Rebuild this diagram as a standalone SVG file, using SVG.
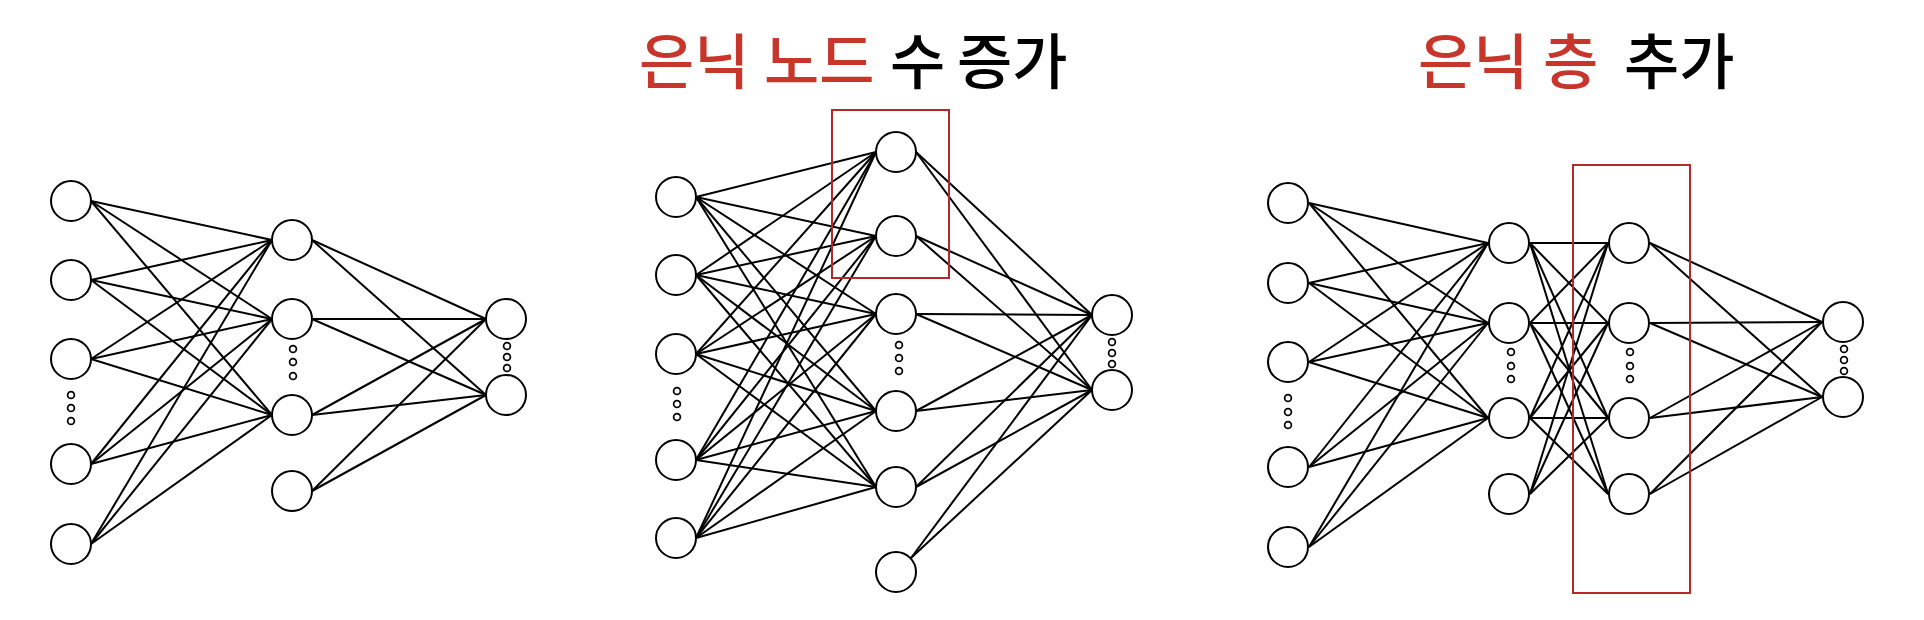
<svg xmlns="http://www.w3.org/2000/svg" width="1924" height="620" viewBox="0 0 1924 620">
<style>
.bg{fill:#ffffff}
.edge{stroke:#000;stroke-width:2;fill:none}
.node{fill:#fff;stroke:#000;stroke-width:2}
.dot{fill:#fff;stroke:#000;stroke-width:1.7}
.hl{fill:none;stroke:#b3282a;stroke-width:2}
.title{font-family:"Noto Sans CJK KR","Noto Sans CJK SC",sans-serif;font-size:60px;font-weight:500}
.red{fill:#c8352b}
.blk{fill:#000}
</style>
<rect class="bg" x="0" y="0" width="1924" height="620"/>

<text class="title" y="84"><tspan class="red" x="639">은닉</tspan><tspan class="red" x="764">노드</tspan><tspan class="blk" x="890">수</tspan><tspan class="blk" x="957">증가</tspan></text>
<text class="title" y="84"><tspan class="red" x="1418">은닉</tspan><tspan class="red" x="1543">층</tspan><tspan class="blk" x="1624">추가</tspan></text>

<g id="connectors">
<!-- Network 1: input -> hidden -->
<line class="edge" x1="91" y1="201" x2="272" y2="240"/>
<line class="edge" x1="91" y1="201" x2="272" y2="319"/>
<line class="edge" x1="91" y1="201" x2="272" y2="415"/>
<line class="edge" x1="91" y1="280" x2="272" y2="240"/>
<line class="edge" x1="91" y1="280" x2="272" y2="319"/>
<line class="edge" x1="91" y1="280" x2="272" y2="415"/>
<line class="edge" x1="91" y1="359" x2="272" y2="240"/>
<line class="edge" x1="91" y1="359" x2="272" y2="319"/>
<line class="edge" x1="91" y1="359" x2="272" y2="415"/>
<line class="edge" x1="91" y1="464" x2="272" y2="240"/>
<line class="edge" x1="91" y1="464" x2="272" y2="319"/>
<line class="edge" x1="91" y1="464" x2="272" y2="415"/>
<line class="edge" x1="91" y1="544" x2="272" y2="240"/>
<line class="edge" x1="91" y1="544" x2="272" y2="319"/>
<line class="edge" x1="91" y1="544" x2="272" y2="415"/>
<!-- Network 1: hidden -> output -->
<line class="edge" x1="312" y1="240" x2="486" y2="319"/>
<line class="edge" x1="312" y1="240" x2="486" y2="395"/>
<line class="edge" x1="312" y1="319" x2="486" y2="319"/>
<line class="edge" x1="312" y1="319" x2="486" y2="395"/>
<line class="edge" x1="312" y1="415" x2="486" y2="319"/>
<line class="edge" x1="312" y1="415" x2="486" y2="395"/>
<line class="edge" x1="312" y1="491" x2="486" y2="319"/>
<line class="edge" x1="312" y1="491" x2="486" y2="395"/>

<!-- Network 2: input -> hidden -->
<line class="edge" x1="696" y1="197" x2="876" y2="152"/>
<line class="edge" x1="696" y1="197" x2="876" y2="236"/>
<line class="edge" x1="696" y1="197" x2="876" y2="314"/>
<line class="edge" x1="696" y1="197" x2="876" y2="411"/>
<line class="edge" x1="696" y1="197" x2="876" y2="487"/>
<line class="edge" x1="696" y1="275" x2="876" y2="152"/>
<line class="edge" x1="696" y1="275" x2="876" y2="236"/>
<line class="edge" x1="696" y1="275" x2="876" y2="314"/>
<line class="edge" x1="696" y1="275" x2="876" y2="411"/>
<line class="edge" x1="696" y1="275" x2="876" y2="487"/>
<line class="edge" x1="696" y1="354" x2="876" y2="152"/>
<line class="edge" x1="696" y1="354" x2="876" y2="236"/>
<line class="edge" x1="696" y1="354" x2="876" y2="314"/>
<line class="edge" x1="696" y1="354" x2="876" y2="411"/>
<line class="edge" x1="696" y1="354" x2="876" y2="487"/>
<line class="edge" x1="696" y1="460" x2="876" y2="152"/>
<line class="edge" x1="696" y1="460" x2="876" y2="236"/>
<line class="edge" x1="696" y1="460" x2="876" y2="314"/>
<line class="edge" x1="696" y1="460" x2="876" y2="411"/>
<line class="edge" x1="696" y1="460" x2="876" y2="487"/>
<line class="edge" x1="696" y1="538" x2="876" y2="152"/>
<line class="edge" x1="696" y1="538" x2="876" y2="236"/>
<line class="edge" x1="696" y1="538" x2="876" y2="314"/>
<line class="edge" x1="696" y1="538" x2="876" y2="411"/>
<line class="edge" x1="696" y1="538" x2="876" y2="487"/>
<!-- Network 2: hidden -> output -->
<line class="edge" x1="916" y1="152" x2="1092" y2="315"/>
<line class="edge" x1="916" y1="152" x2="1092" y2="390"/>
<line class="edge" x1="916" y1="236" x2="1092" y2="315"/>
<line class="edge" x1="916" y1="236" x2="1092" y2="390"/>
<line class="edge" x1="916" y1="314" x2="1092" y2="315"/>
<line class="edge" x1="916" y1="314" x2="1092" y2="390"/>
<line class="edge" x1="916" y1="411" x2="1092" y2="315"/>
<line class="edge" x1="916" y1="411" x2="1092" y2="390"/>
<line class="edge" x1="916" y1="487" x2="1092" y2="315"/>
<line class="edge" x1="916" y1="487" x2="1092" y2="390"/>
<line class="edge" x1="911" y1="558" x2="1092" y2="315"/>
<line class="edge" x1="911" y1="558" x2="1092" y2="390"/>

<!-- Network 3: input -> hidden 1 -->
<line class="edge" x1="1309" y1="203" x2="1488" y2="243"/>
<line class="edge" x1="1309" y1="203" x2="1488" y2="323"/>
<line class="edge" x1="1309" y1="203" x2="1488" y2="418"/>
<line class="edge" x1="1309" y1="283" x2="1488" y2="243"/>
<line class="edge" x1="1309" y1="283" x2="1488" y2="323"/>
<line class="edge" x1="1309" y1="283" x2="1488" y2="418"/>
<line class="edge" x1="1309" y1="362" x2="1488" y2="243"/>
<line class="edge" x1="1309" y1="362" x2="1488" y2="323"/>
<line class="edge" x1="1309" y1="362" x2="1488" y2="418"/>
<line class="edge" x1="1309" y1="467" x2="1488" y2="243"/>
<line class="edge" x1="1309" y1="467" x2="1488" y2="323"/>
<line class="edge" x1="1309" y1="467" x2="1488" y2="418"/>
<line class="edge" x1="1309" y1="547" x2="1488" y2="243"/>
<line class="edge" x1="1309" y1="547" x2="1488" y2="323"/>
<line class="edge" x1="1309" y1="547" x2="1488" y2="418"/>
<!-- Network 3: hidden 1 -> hidden 2 -->
<line class="edge" x1="1530" y1="243" x2="1608" y2="243"/>
<line class="edge" x1="1530" y1="243" x2="1608" y2="323"/>
<line class="edge" x1="1530" y1="243" x2="1608" y2="418"/>
<line class="edge" x1="1530" y1="243" x2="1608" y2="494"/>
<line class="edge" x1="1530" y1="323" x2="1608" y2="243"/>
<line class="edge" x1="1530" y1="323" x2="1608" y2="323"/>
<line class="edge" x1="1530" y1="323" x2="1608" y2="418"/>
<line class="edge" x1="1530" y1="323" x2="1608" y2="494"/>
<line class="edge" x1="1530" y1="418" x2="1608" y2="243"/>
<line class="edge" x1="1530" y1="418" x2="1608" y2="323"/>
<line class="edge" x1="1530" y1="418" x2="1608" y2="418"/>
<line class="edge" x1="1530" y1="418" x2="1608" y2="494"/>
<line class="edge" x1="1530" y1="494" x2="1608" y2="243"/>
<line class="edge" x1="1530" y1="494" x2="1608" y2="323"/>
<line class="edge" x1="1530" y1="494" x2="1608" y2="418"/>
<!-- Network 3: hidden 2 -> output -->
<line class="edge" x1="1650" y1="243" x2="1822" y2="322"/>
<line class="edge" x1="1650" y1="243" x2="1822" y2="397"/>
<line class="edge" x1="1650" y1="323" x2="1822" y2="322"/>
<line class="edge" x1="1650" y1="323" x2="1822" y2="397"/>
<line class="edge" x1="1650" y1="418" x2="1822" y2="322"/>
<line class="edge" x1="1650" y1="418" x2="1822" y2="397"/>
<line class="edge" x1="1650" y1="494" x2="1822" y2="322"/>
<line class="edge" x1="1650" y1="494" x2="1822" y2="397"/>
</g>

<!-- Network 1 nodes -->
<g id="n1-in1"><circle class="node" cx="71" cy="201" r="20"/></g>
<g id="n1-in2"><circle class="node" cx="71" cy="280" r="20"/></g>
<g id="n1-in3"><circle class="node" cx="71" cy="359" r="20"/></g>
<g id="n1-in4"><circle class="node" cx="71" cy="464" r="20"/></g>
<g id="n1-in5"><circle class="node" cx="71" cy="544" r="20"/></g>
<g id="n1-in-dots"><circle class="dot" cx="71" cy="395" r="3.4"/><circle class="dot" cx="71" cy="408" r="3.4"/><circle class="dot" cx="71" cy="421" r="3.4"/></g>
<g id="n1-h1"><circle class="node" cx="292" cy="240" r="20"/></g>
<g id="n1-h2"><circle class="node" cx="292" cy="319" r="20"/></g>
<g id="n1-h3"><circle class="node" cx="292" cy="415" r="20"/></g>
<g id="n1-h4"><circle class="node" cx="292" cy="491" r="20"/></g>
<g id="n1-h-dots"><circle class="dot" cx="293" cy="349" r="3.4"/><circle class="dot" cx="293" cy="362" r="3.4"/><circle class="dot" cx="293" cy="376" r="3.4"/></g>
<g id="n1-out1"><circle class="node" cx="506" cy="319" r="20"/></g>
<g id="n1-out2"><circle class="node" cx="506" cy="395" r="20"/></g>
<g id="n1-out-dots"><circle class="dot" cx="507" cy="346" r="3.4"/><circle class="dot" cx="507" cy="357" r="3.4"/><circle class="dot" cx="507" cy="368" r="3.4"/></g>

<!-- Network 2 nodes -->
<g id="n2-highlight"><rect class="hl" x="832" y="110" width="117" height="168"/></g>
<g id="n2-in1"><circle class="node" cx="676" cy="197" r="20"/></g>
<g id="n2-in2"><circle class="node" cx="676" cy="275" r="20"/></g>
<g id="n2-in3"><circle class="node" cx="676" cy="354" r="20"/></g>
<g id="n2-in4"><circle class="node" cx="676" cy="460" r="20"/></g>
<g id="n2-in5"><circle class="node" cx="676" cy="538" r="20"/></g>
<g id="n2-in-dots"><circle class="dot" cx="677" cy="391" r="3.4"/><circle class="dot" cx="677" cy="404" r="3.4"/><circle class="dot" cx="677" cy="417" r="3.4"/></g>
<g id="n2-h1"><circle class="node" cx="896" cy="152" r="20"/></g>
<g id="n2-h2"><circle class="node" cx="896" cy="236" r="20"/></g>
<g id="n2-h3"><circle class="node" cx="896" cy="314" r="20"/></g>
<g id="n2-h4"><circle class="node" cx="896" cy="411" r="20"/></g>
<g id="n2-h5"><circle class="node" cx="896" cy="487" r="20"/></g>
<g id="n2-h6"><circle class="node" cx="896" cy="572" r="20"/></g>
<g id="n2-h-dots"><circle class="dot" cx="899" cy="345" r="3.4"/><circle class="dot" cx="899" cy="358" r="3.4"/><circle class="dot" cx="899" cy="371" r="3.4"/></g>
<g id="n2-out1"><circle class="node" cx="1112" cy="315" r="20"/></g>
<g id="n2-out2"><circle class="node" cx="1112" cy="390" r="20"/></g>
<g id="n2-out-dots"><circle class="dot" cx="1112" cy="342" r="3.4"/><circle class="dot" cx="1112" cy="353" r="3.4"/><circle class="dot" cx="1112" cy="364" r="3.4"/></g>

<!-- Network 3 nodes -->
<g id="n3-highlight"><rect class="hl" x="1573" y="165" width="117" height="428"/></g>
<g id="n3-in1"><circle class="node" cx="1288" cy="203" r="20"/></g>
<g id="n3-in2"><circle class="node" cx="1288" cy="283" r="20"/></g>
<g id="n3-in3"><circle class="node" cx="1288" cy="362" r="20"/></g>
<g id="n3-in4"><circle class="node" cx="1288" cy="467" r="20"/></g>
<g id="n3-in5"><circle class="node" cx="1288" cy="547" r="20"/></g>
<g id="n3-in-dots"><circle class="dot" cx="1288" cy="398" r="3.4"/><circle class="dot" cx="1288" cy="412" r="3.4"/><circle class="dot" cx="1288" cy="425" r="3.4"/></g>
<g id="n3-h1-1"><circle class="node" cx="1509" cy="243" r="20"/></g>
<g id="n3-h1-2"><circle class="node" cx="1509" cy="323" r="20"/></g>
<g id="n3-h1-3"><circle class="node" cx="1509" cy="418" r="20"/></g>
<g id="n3-h1-4"><circle class="node" cx="1509" cy="494" r="20"/></g>
<g id="n3-h1-dots"><circle class="dot" cx="1511" cy="352" r="3.4"/><circle class="dot" cx="1511" cy="366" r="3.4"/><circle class="dot" cx="1511" cy="379" r="3.4"/></g>
<g id="n3-h2-1"><circle class="node" cx="1629" cy="243" r="20"/></g>
<g id="n3-h2-2"><circle class="node" cx="1629" cy="323" r="20"/></g>
<g id="n3-h2-3"><circle class="node" cx="1629" cy="418" r="20"/></g>
<g id="n3-h2-4"><circle class="node" cx="1629" cy="494" r="20"/></g>
<g id="n3-h2-dots"><circle class="dot" cx="1630" cy="352" r="3.4"/><circle class="dot" cx="1630" cy="366" r="3.4"/><circle class="dot" cx="1630" cy="379" r="3.4"/></g>
<g id="n3-out1"><circle class="node" cx="1843" cy="322" r="20"/></g>
<g id="n3-out2"><circle class="node" cx="1843" cy="397" r="20"/></g>
<g id="n3-out-dots"><circle class="dot" cx="1844" cy="349" r="3.4"/><circle class="dot" cx="1844" cy="360" r="3.4"/><circle class="dot" cx="1844" cy="371" r="3.4"/></g>
</svg>
